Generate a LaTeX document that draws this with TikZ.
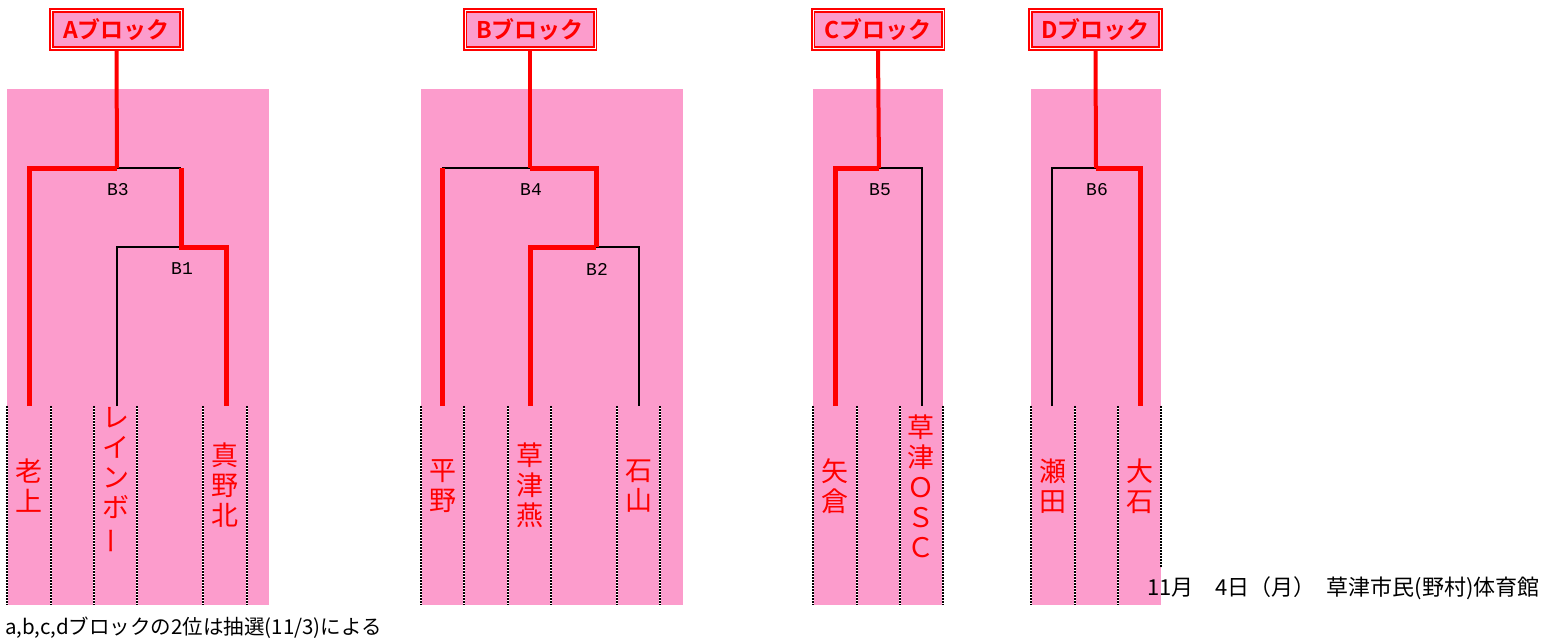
\documentclass[tikz,border=0pt]{standalone}
\usepackage{fontspec}
\usepackage{graphicx}
\setmainfont{Liberation Sans}
\newfontfamily\cjk{Noto Sans CJK JP}[BoldFont={Noto Sans CJK JP Bold}]
\newfontfamily\labfont{Liberation Mono}
\definecolor{blockpink}{RGB}{252,156,204}
\newcommand{\vbar}{\rotatebox[origin=c]{90}{ー}}
\tikzset{
	win/.style = {draw = red, line width = 5pt},
	lose/.style = {draw = black, line width = 1.5pt},
	stem/.style = {draw = red, line width = 4pt},
	lane/.style = {draw = black, line width = 2.5pt, dash pattern = on 1.5pt off 1.5pt, preaction = {draw = white, solid, line width = 2.5pt}},
	block/.style = {draw = red, line width = 1.8pt, double = white, double distance = 1pt, fill = blockpink, minimum width = 130pt, minimum height = 38.4pt, inner sep = 0pt, text = red, font = \cjk\bfseries\fontsize{23}{23}\selectfont},
	team/.style = {align = center, inner sep = 0pt, text = red, font = \cjk\fontsize{27}{30}\selectfont},
	match/.style = {inner sep = 0pt, font = \labfont\fontsize{18}{18}\selectfont}
}
\begin{document}
\begin{tikzpicture}[x = 1pt, y = -1pt]
		\useasboundingbox (0,0) rectangle (1545,641);
		% pink blocks
		\fill[blockpink] (7,89) rectangle (269,605);
		\fill[blockpink] (421,89) rectangle (683,605);
		\fill[blockpink] (813,89) rectangle (943,605);
		\fill[blockpink] (1031,89) rectangle (1161,605);
		\foreach \x in {7,51,94,137,203,247,421,464,508,551,617,660,813,857,900,943,1031,1075,1118}
			\draw[lane] (\x,406) -- (\x,605);
		\draw[lane] (1161,406) -- (1161,567);
		% block titles
		\node[block] (blockA) at (116.5,29.5) {Aブロック};
		\node[block] (blockB) at (530,29.5) {Bブロック};
		\node[block] (blockC) at (878,29.5) {Cブロック};
		\node[block] (blockD) at (1095.5,29.5) {Dブロック};
		% team line ends
		\coordinate (oikami) at (29,406);
		\coordinate (rainbow) at (117,406);
		\coordinate (manokita) at (226,406);
		\coordinate (hirano) at (442,406);
		\coordinate (tsubame) at (530,406);
		\coordinate (ishiyama) at (639,406);
		\coordinate (yagura) at (835,406);
		\coordinate (osc) at (922,406);
		\coordinate (seta) at (1052,406);
		\coordinate (oishi) at (1140,406);
		% matches
		\coordinate (B1) at (181,247);
		\coordinate (B2) at (596,247);
		\coordinate (B3) at (117,168);
		\coordinate (B4) at (530,168);
		\coordinate (B5) at (879,168);
		\coordinate (B6) at (1096,168);
		\node[match] (lB1) at (182,269) {B1};
		\node[match] (lB2) at (597,269) {B2};
		\node[match] (lB3) at (118,190) {B3};
		\node[match] (lB4) at (531,190) {B4};
		\node[match] (lB5) at (880,190) {B5};
		\node[match] (lB6) at (1097,190) {B6};
		% A
		\draw[lose] (rainbow) |- (B1);
		\draw[lose] (B3) -- (B3 -| B1);
		\draw[win] (B3 -| B1) -- (B1) -| (manokita);
		\draw[win] (oikami) |- (B3);
		\draw[stem] (blockA.south) -- (B3);
		% B
		\draw[lose] (B4 -| hirano) -- (B4);
		\draw[lose] (B2) -| (ishiyama);
		\draw[win] (hirano) -- (B4 -| hirano);
		\draw[win] (B4) -| (B2);
		\draw[win] (tsubame) |- (B2);
		\draw[stem] (blockB.south) -- (B4);
		% C
		\draw[lose] (B5) -| (osc);
		\draw[win] (yagura) |- (B5);
		\draw[stem] (blockC.south) -- (B5);
		% D
		\draw[lose] (seta) |- (B6);
		\draw[win] (B6) -| (oishi);
		\draw[stem] (blockD.south) -- (B6);
		% teams
		\node[team] (oikamiT) at (29,486) {老\\上};
		\node[team] (rainbowT) at (116,481) {レ\\イ\\ン\\ボ\\\vbar};
		\node[team] (manokitaT) at (225,485) {真\\野\\北};
		\node[team] (hiranoT) at (443,486) {平\\野};
		\node[team] (tsubameT) at (530,485) {草\\津\\燕};
		\node[team] (ishiyamaT) at (639,486) {石\\山};
		\node[team] (yaguraT) at (835,486) {矢\\倉};
		\node[team] (oscT) at (921,486) {草\\津\\Ｏ\\Ｓ\\Ｃ};
		\node[team] (setaT) at (1053,486) {瀬\\田};
		\node[team] (oishiT) at (1140,486) {大\\石};
		% notes
		\node[anchor = base east, inner sep = 0pt, font = \cjk\fontsize{22}{22}\selectfont] (venue) at (1540,595) {11月　4日（月）\hspace{0.5em}草津市民(野村)体育館};
		\node[anchor = base west, inner sep = 0pt, font = \cjk\fontsize{20.5}{20.5}\selectfont] (note) at (5,634) {a,b,c,dブロックの2位は抽選(11/3)による};
	\end{tikzpicture}
\end{document}
